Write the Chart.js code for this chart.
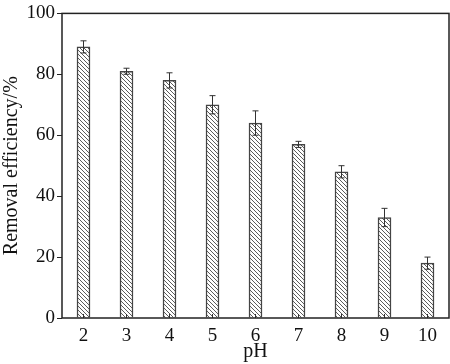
<!DOCTYPE html>
<html>
<head>
<meta charset="utf-8">
<script src="https://cdn.jsdelivr.net/npm/chart.js@4"></script>
<style>
  html, body { margin: 0; padding: 0; background: #fff; }
  #wrap { width: 450px; height: 364px; }
</style>
</head>
<body>
<div id="wrap"><canvas id="chart"></canvas></div>
<script>
const phLabels = ["2", "3", "4", "5", "6", "7", "8", "9", "10"];
const removal = [89, 81, 78, 70, 64, 57, 48, 33, 18];
const errors = [2, 1, 2.5, 3, 4, 1, 2, 3, 2];
const yTicks = [0, 20, 40, 60, 80, 100];

// diagonal hatching for the bars
function hatch() {
    const c = document.createElement("canvas");
    c.width = 4;
    c.height = 4;
    const g = c.getContext("2d");
    g.fillStyle = "#fff";
    g.fillRect(0, 0, 4, 4);
    g.strokeStyle = "#4a4a4a";
    g.lineWidth = 0.9;
    g.beginPath();
    g.moveTo(-1, -1); g.lineTo(5, 5);
    g.moveTo(-1, 3); g.lineTo(1, 5);
    g.moveTo(3, -1); g.lineTo(5, 1);
    g.stroke();
    return g.createPattern(c, "repeat");
}

const extras = {
    id: "extras",
    afterDatasetsDraw(chart) {
        const ctx = chart.ctx;
        const x = chart.scales.x, y = chart.scales.y;
        const a = chart.chartArea;
        ctx.save();
        ctx.strokeStyle = "#333";
        ctx.lineWidth = 1;
        // error bars
        removal.forEach((v, i) => {
            const px = x.getPixelForValue(i);
            const top = y.getPixelForValue(v + errors[i]);
            const bot = y.getPixelForValue(v - errors[i]);
            ctx.beginPath();
            ctx.moveTo(px, top); ctx.lineTo(px, bot);
            ctx.moveTo(px - 3, top); ctx.lineTo(px + 3, top);
            ctx.moveTo(px - 3, bot); ctx.lineTo(px + 3, bot);
            ctx.stroke();
            // inner x tick
            ctx.beginPath();
            ctx.moveTo(px, a.bottom); ctx.lineTo(px, a.bottom - 4);
            ctx.stroke();
        });
        // frame
        ctx.strokeStyle = "#222";
        ctx.lineWidth = 1.5;
        ctx.strokeRect(a.left, a.top, a.right - a.left, a.bottom - a.top);
        ctx.restore();
    }
};

const serif = "'Liberation Serif', 'Times New Roman', serif";

new Chart(document.getElementById("chart"), {
    type: "bar",
    data: {
        labels: phLabels,
        datasets: [{
            data: removal,
            backgroundColor: hatch(),
            borderColor: "#444",
            borderWidth: 1.5,
            barThickness: 13
        }]
    },
    options: {
        responsive: true,
        maintainAspectRatio: false,
        animation: false,
        layout: { padding: { top: 6, right: 1 } },
        plugins: { legend: { display: false }, tooltip: { enabled: false } },
        scales: {
            x: {
                grid: { display: false, drawTicks: false },
                border: { display: false },
                ticks: {
                    color: "#111",
                    padding: 7,
                    font: { family: serif, size: 19 }
                },
                title: {
                    display: true,
                    text: "pH",
                    color: "#111",
                    padding: { top: -2, bottom: 0 },
                    font: { family: serif, size: 20 }
                },
                afterFit(s) { s.height = 46; }
            },
            y: {
                min: 0,
                max: 100,
                afterBuildTicks(s) { s.ticks = yTicks.map(v => ({ value: v })); },
                grid: { drawOnChartArea: false, tickLength: 5, color: "#222" },
                border: { display: false },
                ticks: {
                    color: "#111",
                    padding: 2,
                    font: { family: serif, size: 19 }
                },
                title: {
                    display: true,
                    text: "Removal efficiency/%",
                    color: "#111",
                    padding: { top: 0, bottom: 0 },
                    font: { family: serif, size: 20 }
                },
                afterFit(s) { s.width = 62; }
            }
        }
    },
    plugins: [extras]
});
</script>
</body>
</html>
